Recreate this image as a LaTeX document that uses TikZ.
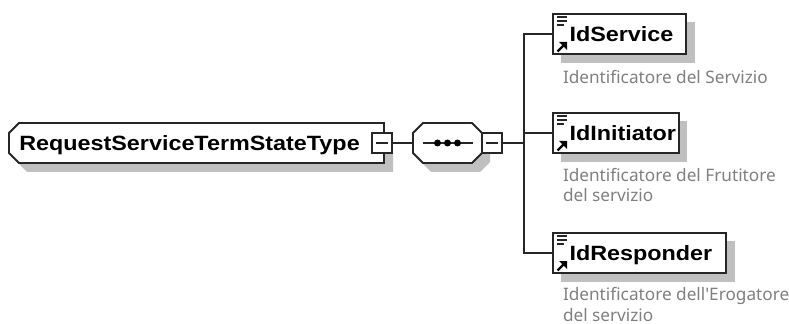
\documentclass[tikz,border=0pt]{standalone}
\usepackage{fontspec}
\setmainfont{Liberation Sans}
\newfontfamily\descfont{Noto Sans}
\newfontfamily\labfont{Liberation Sans}[FakeStretch=1.13]
\usetikzlibrary{calc}
\definecolor{shade}{HTML}{C0C0C0}
\definecolor{desc}{HTML}{808080}
\newcommand{\labstrut}{\rule[-3.5pt]{0pt}{18.1pt}}
\tikzset{
  x=0.75pt,y=-0.75pt,
  ln/.style={draw=black!85,line width=1.4pt},
  shadowfill/.style={fill=shade,draw=none},
  labeltext/.style={font=\labfont\fontsize{15.5pt}{17pt}\selectfont\bfseries},
  elembox/.style={ln,fill=white,inner sep=0pt,outer sep=0pt,anchor=north west,minimum height=30pt,align=left,labeltext},
  anchorbox/.style={inner sep=0pt,outer sep=0pt,anchor=north west,minimum height=30pt},
  expander/.style={ln,fill=white,inner sep=0pt,outer sep=0pt,minimum width=15pt,minimum height=15pt,anchor=north west},
  descnode/.style={inner sep=0pt,outer sep=0pt,anchor=north west,align=left,text=desc,font=\descfont\fontsize{12.9pt}{15.5pt}\selectfont},
  conn/.style={ln,line cap=rect},
  glyph/.style={draw=black!85,line width=0.85pt},
}
\newcommand{\elemicon}[1]{%
  \draw[glyph] ($(#1.north west)+(4,3)$) -- +(10,0);
  \draw[glyph] ($(#1.north west)+(4,7)$) -- +(10,0);
  \draw[glyph] ($(#1.north west)+(4,11)$) -- +(7,0);
  \draw[line width=1.8pt,black] ($(#1.south west)+(4.5,-2.5)$) -- +(7,-7);
  \fill[black] ($(#1.south west)+(14,-12)$) -- +(-8,0) -- +(0,8) -- cycle;
}
\begin{document}
\begin{tikzpicture}
\useasboundingbox (0,0) rectangle (789,324);
\fill[white] (0,0) rectangle (789,324);
% shadows
\fill[shadowfill] (27,172) -- (17,162) -- (385,162) -- (385,153) -- (393,153) -- (393,172) -- cycle;
\fill[shadowfill] (431,172) -- (421,162) -- (474,162) -- (482,153) -- (490,153) -- (490,162) -- (480,172) -- cycle;
\fill[shadowfill] (561,22) rectangle (695,63);
\fill[shadowfill] (561,121) rectangle (687,162);
\fill[shadowfill] (561,241) rectangle (735,282);
% root
\node[anchorbox,minimum width=281.25pt] (root) at (9,123) {};
\filldraw[ln,fill=white] ($(root.north west)+(10,0)$) -- (root.north east) -- (root.south east) -- ($(root.south west)+(10,0)$) -- ($(root.south west)+(0,-10)$) -- ($(root.north west)+(0,10)$) -- cycle;
\node[labeltext,inner sep=0pt,anchor=west] (rootlabel) at ($(root.west)+(10,0)$) {\labstrut RequestServiceTermStateType};
\node[expander] (rootexp) at (372,133) {};
\draw[ln] ($(rootexp.west)+(4,0)$) -- ($(rootexp.east)+(-4,0)$);
% sequence
\node[anchorbox,minimum width=51.75pt] (seq) at (413,123) {};
\filldraw[ln,fill=white] ($(seq.north west)+(10,0)$) -- ($(seq.north east)+(-10,0)$) -- ($(seq.north east)+(0,10)$) -- ($(seq.south east)+(0,-10)$) -- ($(seq.south east)+(-10,0)$) -- ($(seq.south west)+(10,0)$) -- ($(seq.south west)+(0,-10)$) -- ($(seq.north west)+(0,10)$) -- cycle;
\draw[ln] ($(seq.center)+(-25,0)$) -- ($(seq.center)+(25,0)$);
\foreach \dx in {-10,0,10} \fill[black] ($(seq.center)+(\dx,0)$) circle (3.5);
\node[expander] (seqexp) at (482,133) {};
\draw[ln] ($(seqexp.west)+(4,0)$) -- ($(seqexp.east)+(-4,0)$);
% elements
\node[elembox,minimum width=99.75pt,text width=99.75pt] (svc) at (553,14) {\labstrut\hspace*{12.4pt}IdService};
\node[elembox,minimum width=94.5pt,text width=94.5pt] (ini) at (553,113) {\labstrut\hspace*{12.4pt}IdInitiator};
\node[elembox,minimum width=129.75pt,text width=129.75pt] (rsp) at (553,233) {\labstrut\hspace*{12.4pt}IdResponder};
\elemicon{svc}\elemicon{ini}\elemicon{rsp}
% connectors
\coordinate (bus) at (524,143);
\draw[conn] (rootexp.east) -- (seq.west);
\draw[conn] (seqexp.east) -- (bus);
\draw[conn] (svc.west) -| (bus);
\draw[conn] (ini.west) -| (bus);
\draw[conn] (rsp.west) -| (bus);
% descriptions
\node[descnode] (dsvc) at (563,70.5) {Identificatore del Servizio};
\node[descnode] (dini) at (563,168) {Identificatore del Frutitore\\del servizio};
\node[descnode] (drsp) at (563,287.5) {Identificatore dell'Erogatore\\del servizio};
\end{tikzpicture}
\end{document}
